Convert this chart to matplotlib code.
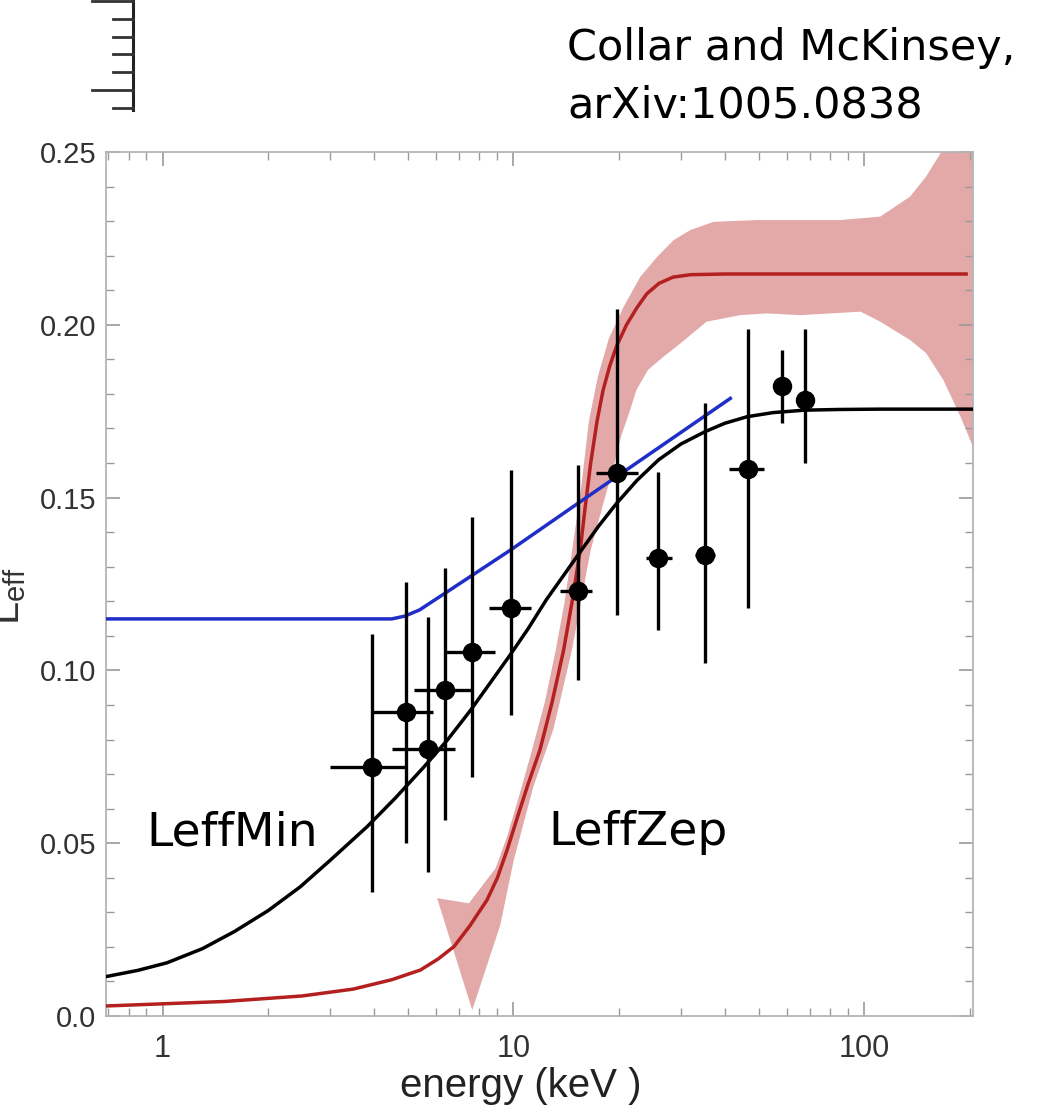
import matplotlib
matplotlib.use("Agg")
import matplotlib.pyplot as plt
from matplotlib.lines import Line2D
from matplotlib.ticker import FixedLocator, NullFormatter, LogLocator
import numpy as np

# ---- measured L_eff points (energy in keV) ----
energy = [3.96, 4.93, 5.69, 6.40, 7.63, 9.85, 15.25, 19.7, 25.9, 35.2, 46.5, 58.3, 67.6]
leff = [0.0721, 0.0880, 0.0773, 0.0943, 0.1054, 0.1180, 0.1231, 0.1572, 0.1324, 0.1334, 0.1583, 0.1823, 0.1782]
energy_low = [3.01, 3.96, 4.52, 5.19, 6.40, 8.50, 13.6, 17.2, 23.8, 33.0, 41.2, 58.3, 67.6]
energy_high = [4.92, 5.88, 6.83, 7.55, 8.88, 11.2, 16.7, 22.6, 28.3, 37.5, 51.8, 58.3, 67.6]
leff_low = [0.036, 0.050, 0.0418, 0.0567, 0.0692, 0.0871, 0.0972, 0.116, 0.1117, 0.102, 0.118, 0.1717, 0.160]
leff_high = [0.1104, 0.1257, 0.1155, 0.1295, 0.1444, 0.158, 0.1594, 0.2046, 0.1575, 0.1775, 0.1987, 0.1927, 0.1987]

# ---- LeffMin curve ----
min_energy = [0.69, 0.85, 1.03, 1.3, 1.6, 2.0, 2.47, 3.0, 3.83, 4.6, 5.55, 6.5, 7.55, 8.6,
              9.79, 11.0, 12.4, 13.9, 15.5, 17.5, 19.7, 22.5, 25.9, 30.0, 35.2, 40.0,
              46.3, 55.0, 67.6, 85.0, 111, 204]
min_leff = [0.0114, 0.0132, 0.0154, 0.0195, 0.0244, 0.0305, 0.0374, 0.0450, 0.0548, 0.0630,
            0.0720, 0.0800, 0.0885, 0.0965, 0.1045, 0.1120, 0.1204, 0.1275, 0.1343, 0.1418,
            0.1484, 0.1550, 0.1609, 0.1655, 0.1691, 0.1715, 0.1734, 0.1746, 0.1753, 0.1755,
            0.1756, 0.1756]

# ---- LeffZep curve and its band ----
zep_energy = [0.69, 1.5, 2.5, 3.5, 4.5, 5.43, 6.1, 6.77, 7.5, 8.41, 9.0, 9.59, 10.3, 11.0,
              11.9, 12.9, 13.9, 14.7, 15.5, 16.0, 16.6, 17.3, 18.0, 18.8, 19.7, 21.0, 22.5,
              24.0, 26.0, 28.5, 32.0, 40.0, 195]
zep_leff = [0.0029, 0.0042, 0.0058, 0.0078, 0.0105, 0.0133, 0.0165, 0.0201, 0.0260, 0.0336,
            0.0400, 0.0480, 0.0580, 0.0670, 0.0770, 0.0910, 0.1059, 0.1200, 0.1348, 0.1470,
            0.1600, 0.1720, 0.1810, 0.1880, 0.1940, 0.2000, 0.2050, 0.2090, 0.2120, 0.2138,
            0.2145, 0.2147, 0.2147]

band_top_energy = [6.06, 7.46, 8.89, 9.6, 10.4, 11.3, 12.3, 13.2, 14.0, 14.7, 15.6, 16.4,
                   17.4, 18.7, 20.6, 23.0, 25.7, 28.6, 31.9, 37.2, 49.5, 85.2, 111, 135,
                   150, 165, 204]
band_top_leff = [0.0341, 0.0326, 0.0427, 0.0520, 0.0640, 0.0770, 0.0910, 0.1059, 0.1200,
                 0.1348, 0.1530, 0.1720, 0.1850, 0.1960, 0.2052, 0.2139, 0.2197, 0.2245,
                 0.2274, 0.2298, 0.2303, 0.2303, 0.2313, 0.2371, 0.2429, 0.2497, 0.265]
band_bot_energy = [6.06, 7.63, 9.17, 10.02, 11.4, 13.0, 14.68, 16.6, 18.0, 19.3, 20.3,
                   21.5, 22.4, 24.2, 26.8, 29.9, 35.5, 44.3, 52.7, 65.7, 97.6, 111, 135,
                   150, 168, 188, 204]
band_bot_leff = [0.0341, 0.0017, 0.0263, 0.0451, 0.0664, 0.0830, 0.1059, 0.1348, 0.1480,
                 0.1590, 0.1680, 0.1753, 0.1811, 0.1870, 0.1908, 0.1946, 0.2009, 0.2028,
                 0.2033, 0.2028, 0.2038, 0.2009, 0.1956, 0.1918, 0.1840, 0.1734, 0.1647]

# ---- blue curve ----
blue_energy = [0.69, 4.5, 4.9, 5.4, 6.6, 9.8, 15.5, 41.5]
blue_leff = [0.1149, 0.1149, 0.1157, 0.1175, 0.1233, 0.1348, 0.1488, 0.1787]

y_ticks = [0.0, 0.05, 0.10, 0.15, 0.20, 0.25]
y_tick_labels = ["0.0", "0.05", "0.10", "0.15", "0.20", "0.25"]
x_ticks = [1, 10, 100]
x_tick_labels = ["1", "10", "100"]

W, H = 1042, 1114
fig = plt.figure(figsize=(W / 100, H / 100), dpi=100)
fig.patch.set_facecolor("white")
plt.rcParams["mathtext.default"] = "regular"


def fx(px):
    return px / W


def fy(py):
    return 1 - py / H


left, right, top, bottom = 106, 973, 152, 1016
ax = fig.add_axes([fx(left), fy(bottom), (right - left) / W, (bottom - top) / H])
ax.set_xscale("log")
ax.set_xlim(0.69, 204)
ax.set_ylim(0.0, 0.25)

band_x = list(band_top_energy) + list(band_bot_energy[::-1])
band_y = list(band_top_leff) + list(band_bot_leff[::-1])
ax.fill(band_x, band_y, color="#e3a8a8", lw=0, zorder=1)

ax.plot(zep_energy, zep_leff, color="#b3201f", lw=2.5, zorder=3)
ax.plot(min_energy, min_leff, color="black", lw=2.5, zorder=4)
ax.plot(blue_energy, blue_leff, color="#1f2ec8", lw=2.5, zorder=4)

e = np.array(energy)
l = np.array(leff)
xerr = [e - np.array(energy_low), np.array(energy_high) - e]
yerr = [l - np.array(leff_low), np.array(leff_high) - l]
ax.errorbar(e, l, xerr=xerr, yerr=yerr, fmt="o", color="black", ms=13,
            elinewidth=2.4, capsize=0, zorder=5)

# axes styling
spine_color = "#b4b4b4"
for sp in ax.spines.values():
    sp.set_color(spine_color)
    sp.set_linewidth(1.3)

ax.yaxis.set_major_locator(FixedLocator(y_ticks))
ax.set_yticklabels(y_tick_labels)
ax.yaxis.set_minor_locator(FixedLocator(np.arange(0, 0.2501, 0.01)))
ax.xaxis.set_major_locator(FixedLocator(x_ticks))
ax.set_xticklabels(x_tick_labels)
ax.xaxis.set_minor_locator(LogLocator(base=10, subs=np.arange(2, 10)))
ax.xaxis.set_minor_formatter(NullFormatter())

ax.tick_params(which="both", direction="in", top=True, right=True,
               color="#9a9a9a", labelcolor="#333333")
ax.tick_params(which="major", length=10, width=1.2)
ax.tick_params(which="minor", length=5.5, width=1.0)
ax.tick_params(axis="y", which="major", labelsize=21, pad=7,
               labelfontfamily="Liberation Sans")
ax.tick_params(axis="x", which="major", labelsize=22, pad=13,
               labelfontfamily="Liberation Sans")

fig.text(fx(521), fy(1086), "energy (keV )", fontsize=29, color="#222222",
         family="Liberation Sans", ha="center", va="center")

fig.text(fx(8), fy(596), "L$_{eff}$", fontsize=30, color="#333333",
         family="Liberation Sans", rotation=90, ha="center", va="center")

# annotations
fig.text(fx(567), fy(60), "Collar and McKinsey,", fontsize=31,
         family="DejaVu Sans", color="black", va="baseline")
fig.text(fx(567), fy(117), "arXiv:1005.0838", fontsize=31,
         family="DejaVu Sans", color="black", va="baseline")
fig.text(fx(146), fy(845), "LeffMin", fontsize=34, family="DejaVu Sans",
         color="black", va="baseline")
fig.text(fx(548), fy(845), "LeffZep", fontsize=34, family="DejaVu Sans",
         color="black", va="baseline")

# partial scale drawn at top left
rx = 133
fig.add_artist(Line2D([fx(rx), fx(rx)], [fy(0), fy(110)], color="#222222", lw=2.2))
for ty, long_tick in [(1, True), (19.3, False), (36.7, False), (54, False),
                      (71.7, False), (90, True), (107.7, False)]:
    x0 = 92 if long_tick else 113
    fig.add_artist(Line2D([fx(x0), fx(rx)], [fy(ty), fy(ty)], color="#333333", lw=2.0))

fig.savefig("out.png", dpi=100, facecolor="white")
